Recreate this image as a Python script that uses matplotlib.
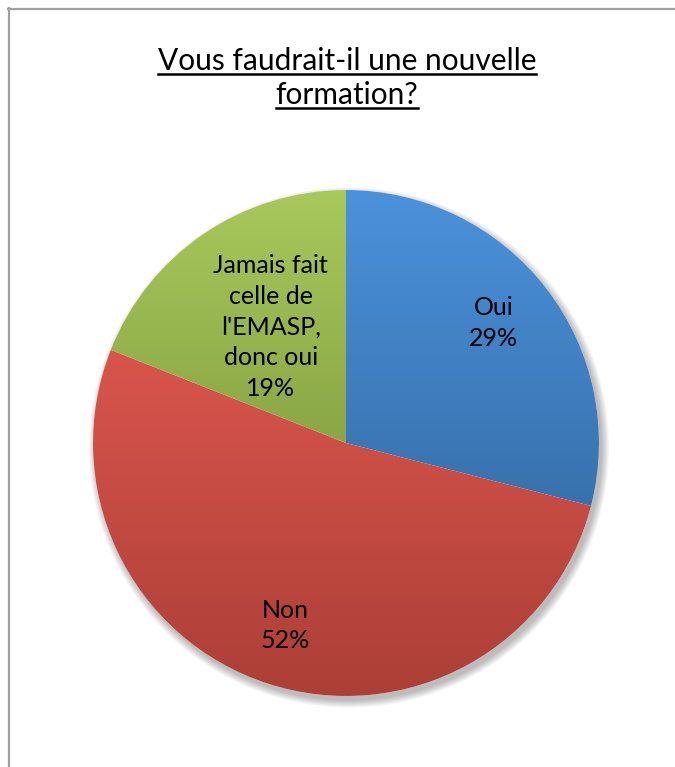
import numpy as np
import matplotlib
matplotlib.use("Agg")
from matplotlib import pyplot as plt
from matplotlib.lines import Line2D
from matplotlib.patches import Circle

labels = ['Oui', 'Non', "Jamais fait\ncelle de\nl'EMASP,\ndonc oui"]
values = [29, 52, 19]
top_colors = ['#4b92dc', '#d9554c', '#a8c95c']
bottom_colors = ['#3871ad', '#ac3f37', '#8aa646']
label_dist = [0.74, 0.78, 0.53]
title_lines = ['Vous faudrait-il une nouvelle', 'formation?']

plt.rcParams['font.family'] = ['Lato', 'DejaVu Sans']

fig = plt.figure(figsize=(6.75, 7.67), dpi=100)
W, H = 675, 767

# border (top and left only, like the cropped screenshot)
fig.add_artist(Line2D([8 / W, 1], [1 - 8.5 / H, 1 - 8.5 / H], color='#a0a0a0', lw=1.6))
fig.add_artist(Line2D([8.5 / W, 8.5 / W], [0, 1 - 8 / H], color='#a0a0a0', lw=1.6))

cx, cy, r = 346, 443, 253
ax = fig.add_axes([(cx - r * 1.05) / W, (H - cy - r * 1.05) / H, 2.1 * r / W, 2.1 * r / H])
ax.axis('off')

# soft shadow
for i in range(8):
    ax.add_patch(Circle((0.012, -0.018), 1.0 + 0.004 * i, color='#000000', alpha=0.035, lw=0, zorder=0))
ax.add_patch(Circle((0, 0), 1.0, color='white', lw=0, zorder=0.5))

wedges, _ = ax.pie(values, startangle=90, counterclock=False, radius=1.0,
                   colors=['none'] * 3, wedgeprops=dict(lw=0))

yy = np.linspace(1, 0, 256)[:, None]
for w, c1, c2 in zip(wedges, top_colors, bottom_colors):
    a = np.array(matplotlib.colors.to_rgb(c1))
    b = np.array(matplotlib.colors.to_rgb(c2))
    img = (a[None, None, :] * yy[..., None] + b[None, None, :] * (1 - yy[..., None]))
    img = np.repeat(img, 4, axis=1)
    ext = w.get_path().get_extents(w.get_patch_transform())
    im = ax.imshow(img, extent=[ext.x0, ext.x1, ext.y0, ext.y1], origin='upper', zorder=1,
                   interpolation='bilinear')
    im.set_clip_path(w)

for w, lab, v, d in zip(wedges, labels, values, label_dist):
    t = np.deg2rad((w.theta1 + w.theta2) / 2)
    ax.text(d * np.cos(t), d * np.sin(t) + 0.02, f'{lab}\n{v}%', ha='center', va='center',
            fontsize=18, color='black', linespacing=1.4, zorder=3)

ax.set_xlim(-1.05, 1.05)
ax.set_ylim(-1.05, 1.05)
ax.set_aspect('equal')

# title with underline
fig.canvas.draw()
renderer = fig.canvas.get_renderer()
for line, yb in zip(title_lines, [70, 104]):
    t = fig.text(347 / W, 1 - yb / H, line, ha='center', va='baseline', fontsize=21.5, color='black')
    bb = t.get_window_extent(renderer)
    fig.add_artist(Line2D([bb.x0 / W, bb.x1 / W], [1 - (yb + 3.5) / H] * 2, color='black', lw=1.8))

fig.savefig('out.png', dpi=100, facecolor='white')
